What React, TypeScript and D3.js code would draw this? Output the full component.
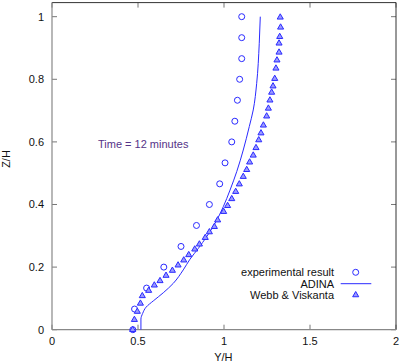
import React from "react";
import * as d3 from "d3";

const expX = [0.47, 0.48, 0.55, 0.65, 0.75, 0.84, 0.915, 0.975, 1.006, 1.045, 1.063, 1.078, 1.091, 1.103, 1.103, 1.103];
const expY = [0.0, 0.066, 0.133, 0.2, 0.266, 0.333, 0.4, 0.466, 0.533, 0.6, 0.666, 0.733, 0.8, 0.866, 0.933, 1.0];

const adinaX = [0.517, 0.517, 0.527, 0.547, 0.589, 0.647, 0.705, 0.763, 0.802, 0.851, 0.899, 0.948, 0.996, 1.035, 1.074, 1.112, 1.147, 1.17, 1.19, 1.205, 1.211];
const adinaY = [0.0, 0.034, 0.052, 0.072, 0.092, 0.118, 0.148, 0.191, 0.225, 0.26, 0.297, 0.34, 0.393, 0.446, 0.505, 0.574, 0.649, 0.702, 0.787, 0.915, 1.0];

const webbX = [0.469, 0.479, 0.496, 0.514, 0.525, 0.562, 0.595, 0.628, 0.663, 0.7, 0.733, 0.766, 0.795, 0.83, 0.857, 0.891, 0.915, 0.944, 0.963, 0.998, 1.021, 1.045, 1.068, 1.089, 1.112, 1.132, 1.149, 1.17, 1.186, 1.202, 1.215, 1.229, 1.248, 1.258, 1.267, 1.277, 1.285, 1.295, 1.302, 1.308, 1.32, 1.32, 1.324, 1.329, 1.327];
const webbY = [0.0, 0.032, 0.058, 0.084, 0.108, 0.125, 0.142, 0.156, 0.173, 0.189, 0.206, 0.222, 0.239, 0.257, 0.273, 0.294, 0.312, 0.329, 0.35, 0.377, 0.396, 0.418, 0.441, 0.465, 0.489, 0.511, 0.535, 0.557, 0.581, 0.606, 0.628, 0.653, 0.682, 0.707, 0.733, 0.758, 0.778, 0.802, 0.835, 0.861, 0.886, 0.915, 0.936, 0.966, 0.998];

const xTicks = [0, 0.5, 1, 1.5, 2];
const yTicks = [0, 0.2, 0.4, 0.6, 0.8, 1];
const legendLabels = ["experimental result", "ADINA", "Webb & Viskanta"];

const W = 400;
const H = 363;
const BLUE = "#2a2aff";
const FONT = "'Liberation Sans', Arial, Helvetica, sans-serif";

export default function App() {
  const x = d3.scaleLinear().domain([0, 2]).range([52, 396]);
  const y = d3.scaleLinear().domain([0, 1.045]).range([329.7, 2.6]);
  const line = d3
    .line<number>()
    .x((_, i) => x(adinaX[i]))
    .y((_, i) => y(adinaY[i]))
    .curve(d3.curveMonotoneY);
  const tri = d3.symbol().type(d3.symbolTriangle).size(16)() as string;
  const [x0, x1] = x.range();
  const [y0, y1] = y.range();
  const tickLen = 5;
  const legX = 334;
  const legMarkX = 355.7;
  const legY = [272.3, 283.7, 295];

  return (
    <svg
      width={W}
      height={H}
      style={{ position: "absolute", left: 0, top: 0, background: "#fff" }}
      fontFamily={FONT}
    >
      <rect x={0} y={0} width={W} height={H} fill="#fff" />
      {xTicks.map((t) => (
        <g key={"xt" + t} stroke="#777" strokeWidth={1}>
          <line x1={x(t)} x2={x(t)} y1={y0} y2={y0 - tickLen} />
          <line x1={x(t)} x2={x(t)} y1={y1} y2={y1 + tickLen} />
        </g>
      ))}
      {yTicks.map((t) => (
        <g key={"yt" + t} stroke="#777" strokeWidth={1}>
          <line x1={x0} x2={x0 + tickLen} y1={y(t)} y2={y(t)} />
          <line x1={x1} x2={x1 - tickLen} y1={y(t)} y2={y(t)} />
        </g>
      ))}
      <line x1={x0} x2={x1} y1={y1} y2={y1} stroke="#333" strokeWidth={1} />
      <line x1={x1} x2={x1} y1={y1} y2={y0} stroke="#333" strokeWidth={1} />
      <line x1={x0} x2={x0} y1={y1} y2={y0} stroke="#888" strokeWidth={1.2} />
      <line x1={x0} x2={x1} y1={y0} y2={y0} stroke="#888" strokeWidth={1.2} />
      {xTicks.map((t) => (
        <text key={"xl" + t} x={x(t)} y={345} textAnchor="middle" fontSize={11} fill="#111">
          {String(t)}
        </text>
      ))}
      {yTicks.map((t) => (
        <text key={"yl" + t} x={44} y={y(t) + 4} textAnchor="end" fontSize={11} fill="#111">
          {String(t)}
        </text>
      ))}
      <text x={223.3} y={360.5} textAnchor="middle" fontSize={11} fill="#111">
        Y/H
      </text>
      <text transform="translate(10,159) rotate(-90)" textAnchor="middle" fontSize={11} fill="#111">
        Z/H
      </text>
      <text x={98} y={147.5} fontSize={11} fill="#553388">
        Time = 12 minutes
      </text>
      <path d={line(adinaX) as string} fill="none" stroke={BLUE} strokeWidth={1} />
      {expX.map((v, i) => (
        <circle key={"c" + i} cx={x(v)} cy={y(expY[i])} r={3} fill="none" stroke={BLUE} strokeWidth={1} />
      ))}
      {webbX.map((v, i) => (
        <path
          key={"t" + i}
          d={tri}
          transform={`translate(${x(v)},${y(webbY[i])})`}
          fill="#9a9aff"
          stroke={BLUE}
          strokeWidth={1}
        />
      ))}
      {legendLabels.map((l, i) => (
        <text key={l} x={legX} y={legY[i] + 4} textAnchor="end" fontSize={11} fill="#111">
          {l}
        </text>
      ))}
      <circle cx={legMarkX} cy={legY[0]} r={3} fill="none" stroke={BLUE} strokeWidth={1} />
      <line x1={340.7} x2={371.3} y1={legY[1]} y2={legY[1]} stroke={BLUE} strokeWidth={1} />
      <path d={tri} transform={`translate(${legMarkX},${legY[2]})`} fill="#9a9aff" stroke={BLUE} strokeWidth={1} />
    </svg>
  );
}
